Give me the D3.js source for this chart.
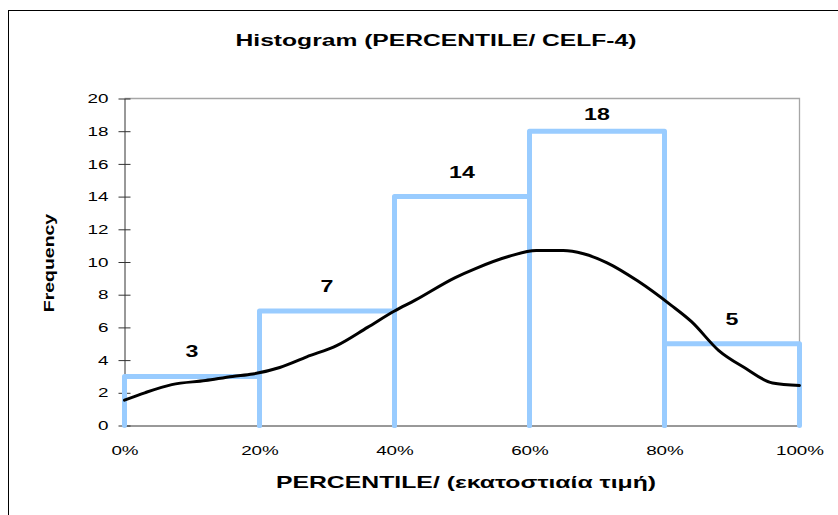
<!DOCTYPE html>
<html><head><meta charset="utf-8">
<script src="https://cdn.jsdelivr.net/npm/d3@7"></script>
<style>body{margin:0;background:#fff}svg{display:block;font-family:Arial,"Liberation Sans",sans-serif}</style>
</head><body>
<svg id="c" width="838" height="515"></svg>
<script>
const binStarts = [0, 20, 40, 60, 80];
const binEnds = [20, 40, 60, 80, 100];
const frequencies = [3, 7, 14, 18, 5];
const xTickLabels = ["0%", "20%", "40%", "60%", "80%", "100%"];
const xTickValues = [0, 20, 40, 60, 80, 100];
const yTickValues = [0, 2, 4, 6, 8, 10, 12, 14, 16, 18, 20];
const curveX = [0, 3, 7, 12, 16, 19, 23, 27, 31.5, 36, 40, 43, 49, 52, 57, 61, 65, 68, 71.5, 76, 81, 84, 88, 92, 96, 100];
const curveY = [1.55, 2.0, 2.5, 2.75, 3.0, 3.15, 3.55, 4.2, 4.9, 6.0, 7.0, 7.65, 9.05, 9.6, 10.35, 10.7, 10.7, 10.5, 9.95, 8.85, 7.35, 6.35, 4.6, 3.5, 2.6, 2.45];

const SX = 1.45; // horizontal stretch of the original rendering
const svg = d3.select("#c");
// outer frame
svg.append("rect").attr("x", 8.5).attr("y", 10.5).attr("width", 900).attr("height", 600)
  .attr("fill", "none").attr("stroke", "#000").attr("stroke-width", 1);

const x = d3.scaleLinear().domain([0, 100]).range([124.5, 799.5]);
const y = d3.scaleLinear().domain([0, 20]).range([425.5, 98.5]);

// plot area border (top/right gray)
svg.append("path").attr("d", `M${x(0)},${y(20)}H${x(100)}V${y(0)}`)
  .attr("fill", "none").attr("stroke", "#a6a6a6").attr("stroke-width", 1.3);

// y axis
const yAxis = d3.axisLeft(y).tickValues(yTickValues).tickSize(0).tickPadding(0);
const gy = svg.append("g").attr("transform", `translate(${x(0)},0)`).call(yAxis);
gy.select(".domain").attr("stroke", "#333");
gy.selectAll("text").attr("font-size", 13).attr("fill", "#000")
  .attr("font-family", "Arial, 'Liberation Sans', sans-serif")
  .attr("x", -16 / SX).attr("transform", `scale(${SX},1)`);
gy.selectAll(".tick").append("line").attr("x1", -6).attr("x2", 6).attr("stroke", "#333");

// x axis
const xAxis = d3.axisBottom(x).tickValues(xTickValues).tickFormat((d, i) => xTickLabels[i]).tickSize(0).tickPadding(20);
const gx = svg.append("g").attr("transform", `translate(0,${y(0)})`).call(xAxis);
gx.select(".domain").attr("stroke", "#333");
gx.selectAll("text").attr("font-size", 13).attr("fill", "#000")
  .attr("font-family", "Arial, 'Liberation Sans', sans-serif")
  .attr("transform", `scale(${SX},1)`);

// bars as outlines
const bars = binStarts.map((s, i) => ({ s, e: binEnds[i], f: frequencies[i] }));
svg.append("g").selectAll("path").data(bars).join("path")
  .attr("d", d => `M${x(d.s)},${y(0)}V${y(d.f)}H${x(d.e)}V${y(0)}`)
  .attr("fill", "none").attr("stroke", "#99ccff").attr("stroke-width", 5)
  .attr("stroke-linecap", "round").attr("stroke-linejoin", "round");

// bar labels
svg.append("g").selectAll("text").data(bars).join("text")
  .attr("transform", d => `translate(${x((d.s + d.e) / 2)},${Math.max(y(d.f) - 25, 114) + 6}) scale(${SX},1)`)
  .attr("text-anchor", "middle").attr("font-size", 16).attr("font-weight", "bold")
  .text(d => d.f);

// curve
const pts = curveX.map((v, i) => [v, curveY[i]]);
svg.append("path").datum(pts)
  .attr("d", d3.line().x(d => x(d[0])).y(d => y(d[1])).curve(d3.curveMonotoneX))
  .attr("fill", "none").attr("stroke", "#000").attr("stroke-width", 3)
  .attr("stroke-linejoin", "round").attr("stroke-linecap", "round");

// title
svg.append("text").attr("transform", `translate(436,46) scale(${SX},1)`).attr("text-anchor", "middle")
  .attr("font-size", 17).attr("font-weight", "bold").text("Histogram (PERCENTILE/ CELF-4)");
// x label
svg.append("text").attr("transform", `translate(466,488) scale(1.55,1)`).attr("text-anchor", "middle")
  .attr("font-size", 16).attr("font-weight", "bold").text("PERCENTILE/ (εκατοστιαία τιμή)");
// y label
svg.append("text").attr("transform", "translate(54,263) rotate(-90) scale(1.39,1)").attr("text-anchor", "middle")
  .attr("font-size", 14).attr("font-weight", "bold").text("Frequency");
</script>
</body></html>
